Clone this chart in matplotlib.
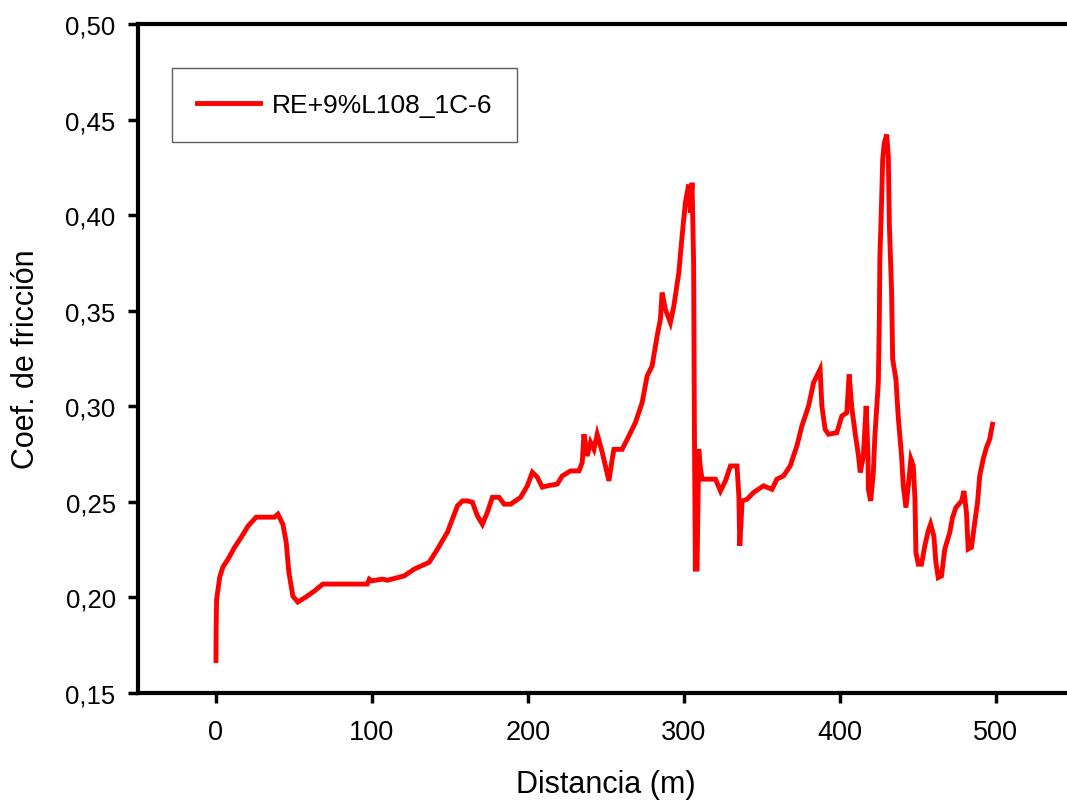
import matplotlib
matplotlib.use("Agg")
import matplotlib.pyplot as plt
from matplotlib.ticker import FixedLocator, FixedFormatter

plt.rcParams['font.family'] = ['Liberation Sans', 'DejaVu Sans']

# Friction coefficient vs. sliding distance
distance_m = [
    0, 0.1, 0.4, 2.4, 4.5, 7.7, 12, 16.2, 20.5, 25.8, 37.5, 39.7, 42.9, 45,
    46.7, 49.3, 52.5, 57.6, 63, 68.5, 97, 98.3, 100, 106.8, 110, 120.7, 127,
    136.7, 142, 148.4, 151.6, 154.8, 158, 161.2, 164.4, 167.6, 170.8, 174,
    177.2, 181.5, 184.7, 188.9, 195.3, 199.6, 202.8, 206, 209.2, 212.4, 218.8,
    222, 227.3, 232.7, 234.8, 235.9, 238, 240.1, 242.3, 244.4, 247.6, 251.9,
    254, 255.1, 260.4, 264.7, 268.9, 273.2, 276.4, 279.6, 282.8, 284.9, 286,
    288.1, 291.3, 293.5, 296.7, 298.8, 300.9, 303, 304.1, 305.2, 306.2, 306.7,
    307.3, 308.4, 309.5, 310.5, 311.6, 313.8, 320.2, 323.4, 326.6, 329.8, 334,
    335.2, 335.8, 337.3, 340.5, 344.6, 351, 356.4, 359.6, 363.8, 368.1, 372.4,
    375.6, 379.9, 383.1, 387.3, 388.4, 390.5, 392.6, 398, 401.2, 404.4, 405.9,
    407.6, 409.7, 411.9, 413, 415, 416.8, 418, 418.2, 419.7, 421.4, 422.4,
    424.6, 425.2, 425.6, 426.7, 427.4, 428.4, 430, 431, 431.7, 433.1, 433.8,
    435.9, 437.4, 439.5, 440.6, 442.3, 443.8, 445.5, 447, 448.1, 448.7, 450.2,
    452.3, 454.4, 456.6, 458.1, 460.2, 461.5, 463, 465.1, 467.2, 470.4, 472.2,
    474.3, 478, 479.5, 481.1, 482.2, 484.3, 486.4, 488.2, 489.6, 491.8, 493.9,
    496, 497.8,
]
friction_coef = [
    0.167, 0.183, 0.199, 0.2106, 0.216, 0.220, 0.2263, 0.2315, 0.2373, 0.242,
    0.242, 0.2436, 0.2383, 0.229, 0.2133, 0.2007, 0.1976, 0.2002, 0.2033,
    0.207, 0.207, 0.2096, 0.2087, 0.2096, 0.209, 0.2113, 0.2148, 0.2184,
    0.2253, 0.2342, 0.241, 0.2479, 0.2505, 0.2505, 0.2498, 0.2427, 0.2383,
    0.2446, 0.2524, 0.2524, 0.2488, 0.2488, 0.2524, 0.2584, 0.2655, 0.2629,
    0.2577, 0.2584, 0.2593, 0.2636, 0.2662, 0.2662, 0.2707, 0.2854, 0.274,
    0.2812, 0.2775, 0.2854, 0.276, 0.261, 0.2723, 0.2775, 0.2775, 0.2845,
    0.2915, 0.302, 0.3159, 0.3211, 0.3368, 0.3455, 0.3595, 0.3507, 0.3438,
    0.3524, 0.3699, 0.389, 0.4065, 0.416, 0.4013, 0.417, 0.3751, 0.2897,
    0.2148, 0.2148, 0.2775, 0.268, 0.2619, 0.2619, 0.2619, 0.2557, 0.261,
    0.2688, 0.2688, 0.2531, 0.227, 0.2505, 0.2514, 0.2549, 0.2584, 0.2566,
    0.2619, 0.2636, 0.2688, 0.2793, 0.2897, 0.3002, 0.3124, 0.3194, 0.3002,
    0.288, 0.2854, 0.2862, 0.2949, 0.2967, 0.3167, 0.2995, 0.2862, 0.274,
    0.2654, 0.274, 0.3002, 0.274, 0.2566, 0.2505, 0.2654, 0.2845, 0.3124,
    0.342, 0.3777, 0.4073, 0.4291, 0.4378, 0.4422, 0.4309, 0.3943, 0.3603,
    0.3246, 0.3141, 0.2941, 0.274, 0.2584, 0.247, 0.2584, 0.2723, 0.2688,
    0.2514, 0.2235, 0.2174, 0.2174, 0.227, 0.2349, 0.2384, 0.2322, 0.2183,
    0.2104, 0.2113, 0.2253, 0.234, 0.2419, 0.247, 0.2505, 0.2557, 0.2444,
    0.2253, 0.2262, 0.2392, 0.2497, 0.2636, 0.2723, 0.2784, 0.2828, 0.2906,
]

series_label = "RE+9%L108_1C-6"
x_ticks = [0, 100, 200, 300, 400, 500]
x_tick_labels = ["0", "100", "200", "300", "400", "500"]
y_ticks = [0.15, 0.20, 0.25, 0.30, 0.35, 0.40, 0.45, 0.50]
y_tick_labels = ["0,15", "0,20", "0,25", "0,30", "0,35", "0,40", "0,45", "0,50"]

fig = plt.figure(figsize=(10.67, 8.04), dpi=100)
ax = fig.add_axes([0.1293, 0.1368, 0.8772, 0.832])

ax.plot(distance_m, friction_coef, color="#ff0000", lw=3.5, label=series_label,
        solid_joinstyle="miter")

ax.set_xlim(-50, 550)
ax.set_ylim(0.15, 0.50)

ax.xaxis.set_major_locator(FixedLocator(x_ticks))
ax.xaxis.set_major_formatter(FixedFormatter(x_tick_labels))
ax.yaxis.set_major_locator(FixedLocator(y_ticks))
ax.yaxis.set_major_formatter(FixedFormatter(y_tick_labels))

for side in ["left", "bottom", "top", "right"]:
    ax.spines[side].set_linewidth(3.0)
    ax.spines[side].set_color("black")

ax.tick_params(axis="x", direction="out", length=7, width=2.5, pad=12,
               labelsize=19.5, colors="black")
ax.tick_params(axis="y", direction="out", length=7, width=2.5, pad=9,
               labelsize=18.5, colors="black")
ax.tick_params(top=False, right=False)

ax.set_xlabel("Distancia (m)", fontsize=22)
ax.set_ylabel("Coef. de fricción", fontsize=22)
ax.xaxis.set_label_coords(0.5, -0.114)
ax.yaxis.set_label_coords(-0.104, 0.5)

leg = ax.legend(loc="upper left", bbox_to_anchor=(0.0364, 0.934),
                fontsize=19, frameon=True, fancybox=False, handlelength=2.4,
                handletextpad=0.42, borderpad=0.95, borderaxespad=0)
leg.get_frame().set_edgecolor("#333333")
leg.get_frame().set_linewidth(1.0)

fig.savefig("out.png", dpi=100)
